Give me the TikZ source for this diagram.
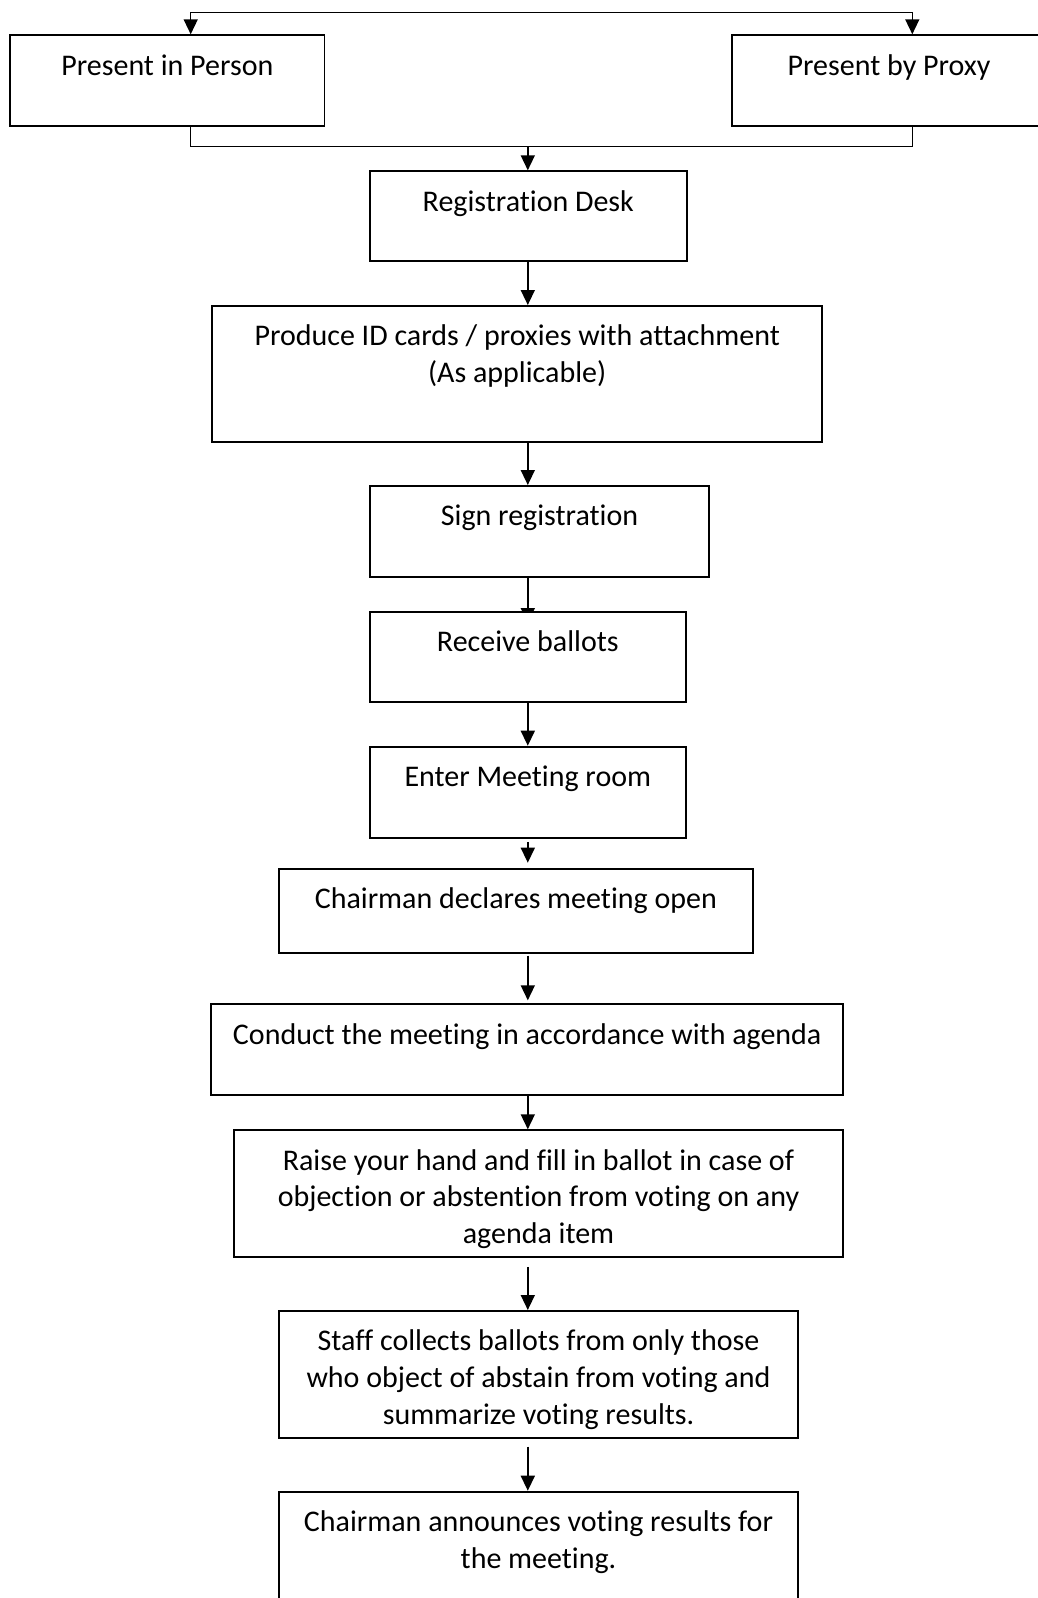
\documentclass[tikz,border=0pt]{standalone}
\usepackage{fontspec}
\setmainfont{Carlito}[Ligatures=NoCommon]
\usetikzlibrary{arrows.meta, backgrounds}

\begin{document}
\begin{tikzpicture}[
    x=1pt, y=-1pt,
    font=\fontsize{30pt}{36.6pt}\selectfont,
    box/.style={draw, fill=white, line width=1.8pt, align=center, anchor=north, inner xsep=4pt, inner ysep=0pt, text height=40pt},
    twoline/.style={text height=76.6pt},
    threeline/.style={text height=113.2pt},
    ar/.style={-{Triangle[length=15pt, width=14pt]}, line width=1.5pt},
    dar/.style={{Triangle[length=15pt, width=14pt]}-{Triangle[length=15pt, width=14pt]}, line width=1.5pt},
    ln/.style={line width=1.5pt}
]
\useasboundingbox (0,0) rectangle (1038,1598);
\node[box, minimum width=314.5pt, text depth=50.7pt] (person) at (167.3,34.3) {Present in Person};
\node[box, minimum width=314.5pt, text depth=50.7pt] (proxy) at (889,34.3) {Present by Proxy};
\node[box, minimum width=316.6pt, text depth=49.7pt] (reg) at (528.3,170.3) {Registration Desk};
\node[box, twoline, minimum width=609.8pt, text depth=59.1pt] (prod) at (517.2,305) {Produce ID cards / proxies with attachment\\(As applicable)};
\node[box, minimum width=339pt, text depth=51pt] (sign) at (539.5,485) {Sign registration};
\node[box, minimum width=315.6pt, text depth=49.7pt] (recv) at (527.8,611) {Receive ballots};
\node[box, minimum width=315.6pt, text depth=51.3pt] (enter) at (527.8,745.7) {Enter Meeting room};
\node[box, minimum width=474.1pt, text depth=44.6pt] (open) at (515.8,867.7) {Chairman declares meeting open};
\node[box, minimum width=632.3pt, text depth=50.7pt] (conduct) at (527.2,1003.3) {Conduct the meeting in accordance with agenda};
\node[box, threeline, minimum width=609.6pt, text depth=13.5pt] (raise) at (538.5,1129.3) {Raise your hand and fill in ballot in case of\\objection or abstention from voting on any\\agenda item};
\node[box, threeline, minimum width=519.6pt, text depth=13.5pt] (staff) at (538.5,1310) {Staff collects ballots from only those\\who object of abstain from voting and\\summarize voting results.};
\node[box, twoline, minimum width=519.6pt, text depth=50.1pt] (announce) at (538.5,1490.7) {Chairman announces voting results for\\the meeting.};

\coordinate (tl) at (190.7,12.3);
\coordinate (tr) at (912.3,12.3);
\coordinate (jn) at (527.8,146.7);
\coordinate (sp) at (527.8,0);

% split and join at the top
\draw[dar] (person.north -| tl) -- (tl) -- (tr) -- (proxy.north -| tr);
\draw[ln] (person.south -| tl) |- (jn) -| (proxy.south -| tr);
\draw[ar] (jn) -- (reg.north -| jn);

% main flow
\draw[ar] (reg.south -| sp) -- (prod.north -| sp);
\draw[ar] (prod.south -| sp) -- (sign.north -| sp);
\begin{scope}[on background layer]
\draw[ar, shorten >=-12pt] (sign.south -| sp) -- (recv.north -| sp);
\end{scope}
\draw[ar] (recv.south -| sp) -- (enter.north -| sp);
\draw[ar, shorten <=3pt, shorten >=5pt] (enter.south -| sp) -- (open.north -| sp);
\draw[ar, shorten <=1.5pt, shorten >=3pt] (open.south -| sp) -- (conduct.north -| sp);
\draw[ar] (conduct.south -| sp) -- (raise.north -| sp);
\draw[ar, shorten <=9pt] (raise.south -| sp) -- (staff.north -| sp);
\draw[ar, shorten <=8pt] (staff.south -| sp) -- (announce.north -| sp);
\end{tikzpicture}
\end{document}
